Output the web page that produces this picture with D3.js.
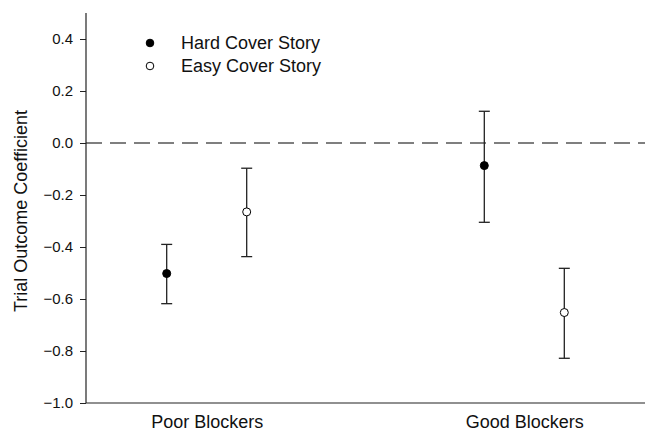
<!DOCTYPE html>
<html>
<head>
<meta charset="utf-8">
<script src="https://cdn.jsdelivr.net/npm/d3@7"></script>
<style>
  html, body { margin: 0; padding: 0; background: #fff; }
  svg text { font-family: Arial, "Liberation Sans", sans-serif; fill: #111; }
</style>
</head>
<body>
<svg id="chart" width="647" height="433"></svg>
<script>
// Groups along the x axis
const categories = ["Poor Blockers", "Good Blockers"];
// Cover story conditions (legend order)
const seriesNames = ["Hard Cover Story", "Easy Cover Story"];
// Coefficient estimates per condition, one value per group
const hardMean = [-0.502, -0.087];
const hardLow  = [-0.618, -0.305];
const hardHigh = [-0.390,  0.122];
const easyMean = [-0.265, -0.652];
const easyLow  = [-0.437, -0.828];
const easyHigh = [-0.097, -0.482];
// Y axis ticks
const yTicks = [0.4, 0.2, 0.0, -0.2, -0.4, -0.6, -0.8, -1.0];

const series = [
  { name: seriesNames[0], mean: hardMean, low: hardLow, high: hardHigh, fill: "#000" },
  { name: seriesNames[1], mean: easyMean, low: easyLow, high: easyHigh, fill: "#fff" }
];

const svg = d3.select("#chart");
const plotLeft = 86, plotRight = 645, plotTop = 13, plotBottom = 403;
const font = "Arial, 'Liberation Sans', sans-serif";

const y = d3.scaleLinear().domain([-1.0, 0.5]).range([plotBottom, plotTop]);
const x = d3.scalePoint().domain(categories).range([plotLeft, plotRight]).padding(0.38);
const offset = d3.scalePoint().domain(seriesNames).range([-40, 40]);

// Zero reference line
svg.append("line")
  .attr("x1", plotLeft).attr("x2", plotRight)
  .attr("y1", y(0)).attr("y2", y(0))
  .attr("stroke", "#555").attr("stroke-width", 1.3)
  .attr("stroke-dasharray", "16,8");

// Y axis
const yAxis = d3.axisLeft(y).tickValues(yTicks).tickSize(6).tickPadding(7)
  .tickFormat(d3.format(".1f"));
const gy = svg.append("g").attr("transform", `translate(${plotLeft},0)`).call(yAxis);
gy.select(".domain").remove();
gy.selectAll(".tick line").attr("stroke", "#222");
gy.selectAll(".tick text").style("font-size", "15px").style("font-family", font).attr("fill", "#111");
svg.append("line").attr("x1", plotLeft).attr("x2", plotLeft).attr("y1", plotTop).attr("y2", plotBottom)
  .attr("stroke", "#222").attr("stroke-width", 1.2);

// X axis
const xAxis = d3.axisBottom(x).tickSize(0).tickPadding(12);
const gx = svg.append("g").attr("transform", `translate(0,${plotBottom})`).call(xAxis);
gx.select(".domain").remove();
gx.selectAll(".tick text").style("font-size", "18px").style("font-family", font).attr("fill", "#111");
svg.append("line").attr("x1", plotLeft).attr("x2", plotRight).attr("y1", plotBottom).attr("y2", plotBottom)
  .attr("stroke", "#222").attr("stroke-width", 1.2);

// Y axis title
svg.append("text")
  .attr("transform", `translate(26.5,211) rotate(-90)`)
  .attr("text-anchor", "middle")
  .style("font-size", "18px")
  .text("Trial Outcome Coefficient");

// Error bars and points
series.forEach(s => {
  const g = svg.append("g");
  categories.forEach((c, i) => {
    const cx = x(c) + offset(s.name);
    g.append("line").attr("x1", cx).attr("x2", cx)
      .attr("y1", y(s.low[i])).attr("y2", y(s.high[i]))
      .attr("stroke", "#222").attr("stroke-width", 1.3);
    [s.low[i], s.high[i]].forEach(v => {
      g.append("line").attr("x1", cx - 5.5).attr("x2", cx + 5.5)
        .attr("y1", y(v)).attr("y2", y(v))
        .attr("stroke", "#222").attr("stroke-width", 1.3);
    });
    g.append("circle").attr("cx", cx).attr("cy", y(s.mean[i])).attr("r", 4)
      .attr("fill", s.fill).attr("stroke", "#000").attr("stroke-width", 1);
  });
});

// Legend
const legend = svg.append("g").attr("transform", "translate(150,43)");
series.forEach((s, i) => {
  const row = legend.append("g").attr("transform", `translate(0,${i * 23})`);
  row.append("circle").attr("r", 3.8).attr("fill", s.fill).attr("stroke", "#000").attr("stroke-width", 1);
  row.append("text").attr("x", 31).attr("y", 6.3).style("font-size", "18px").text(s.name);
});
</script>
</body>
</html>
